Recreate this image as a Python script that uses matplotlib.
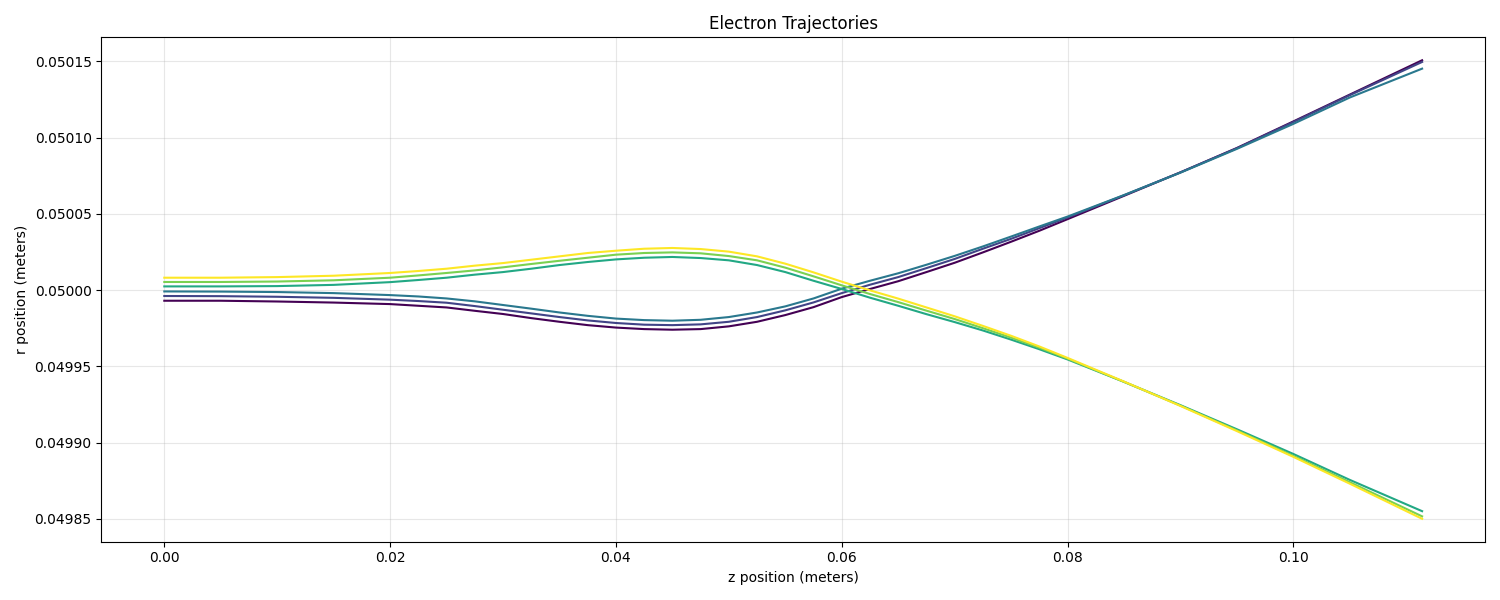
import numpy as np
import matplotlib
matplotlib.use("Agg")
import matplotlib.pyplot as plt

# z positions (m) where the trajectories were read
z = [0.0, 0.005, 0.01, 0.015,
     0.02, 0.0225, 0.025, 0.0275, 0.03, 0.0325, 0.035, 0.0375, 0.04, 0.0425,
     0.045, 0.0475, 0.05, 0.0525, 0.055, 0.0575, 0.06, 0.0625, 0.065, 0.0675,
     0.07, 0.0725, 0.075, 0.0775, 0.08,
     0.085, 0.09, 0.095, 0.10, 0.105, 0.1114]

# r positions (m), one list per electron (innermost start first)
r_1 = [0.0499930, 0.0499930, 0.0499925, 0.0499918,
       0.0499908, 0.0499897, 0.0499886, 0.0499864, 0.0499843, 0.0499816, 0.0499792, 0.0499770, 0.0499754, 0.0499744,
       0.0499740, 0.0499744, 0.0499762, 0.0499792, 0.0499836, 0.0499888, 0.0499954, 0.0500007, 0.0500058, 0.0500118,
       0.0500179, 0.0500247, 0.0500317, 0.0500389, 0.0500465,
       0.0500618, 0.0500772, 0.0500932, 0.0501106, 0.0501282, 0.0501507]
r_2 = [0.0499961, 0.0499960, 0.0499956, 0.0499949,
       0.0499937, 0.0499928, 0.0499917, 0.0499895, 0.0499871, 0.0499847, 0.0499823, 0.0499801, 0.0499784, 0.0499773,
       0.0499770, 0.0499775, 0.0499792, 0.0499823, 0.0499867, 0.0499919, 0.0499980, 0.0500035, 0.0500085, 0.0500144,
       0.0500204, 0.0500271, 0.0500336, 0.0500406, 0.0500476,
       0.0500622, 0.0500772, 0.0500930, 0.0501102, 0.0501278, 0.0501496]
r_3 = [0.0499991, 0.0499990, 0.0499987, 0.0499980,
       0.0499967, 0.0499958, 0.0499945, 0.0499926, 0.0499902, 0.0499878, 0.0499853, 0.0499831, 0.0499813, 0.0499803,
       0.0499799, 0.0499805, 0.0499823, 0.0499853, 0.0499893, 0.0499945, 0.0500009, 0.0500061, 0.0500110, 0.0500166,
       0.0500224, 0.0500286, 0.0500351, 0.0500417, 0.0500482,
       0.0500623, 0.0500770, 0.0500926, 0.0501090, 0.0501263, 0.0501452]
r_4 = [0.0500024, 0.0500024, 0.0500026, 0.0500034,
       0.0500052, 0.0500066, 0.0500081, 0.0500101, 0.0500118, 0.0500140, 0.0500164, 0.0500184, 0.0500201, 0.0500212,
       0.0500217, 0.0500210, 0.0500195, 0.0500164, 0.0500118, 0.0500061, 0.0500007, 0.0499950, 0.0499897, 0.0499842,
       0.0499790, 0.0499735, 0.0499675, 0.0499612, 0.0499545,
       0.0499398, 0.0499245, 0.0499087, 0.0498925, 0.0498755, 0.0498550]
r_5 = [0.0500053, 0.0500053, 0.0500056, 0.0500064,
       0.0500081, 0.0500096, 0.0500112, 0.0500129, 0.0500149, 0.0500171, 0.0500192, 0.0500212, 0.0500232, 0.0500243,
       0.0500247, 0.0500241, 0.0500223, 0.0500195, 0.0500147, 0.0500090, 0.0500031, 0.0499974, 0.0499921, 0.0499865,
       0.0499810, 0.0499750, 0.0499688, 0.0499622, 0.0499550,
       0.0499398, 0.0499242, 0.0499080, 0.0498912, 0.0498740, 0.0498516]
r_6 = [0.0500081, 0.0500081, 0.0500085, 0.0500094,
       0.0500112, 0.0500125, 0.0500140, 0.0500160, 0.0500177, 0.0500199, 0.0500221, 0.0500243, 0.0500258, 0.0500271,
       0.0500276, 0.0500269, 0.0500252, 0.0500221, 0.0500173, 0.0500116, 0.0500055, 0.0499998, 0.0499944, 0.0499886,
       0.0499828, 0.0499765, 0.0499700, 0.0499630, 0.0499555,
       0.0499400, 0.0499240, 0.0499075, 0.0498906, 0.0498730, 0.0498500]

trajectories = [r_1, r_2, r_3, r_4, r_5, r_6]
colors = plt.cm.viridis(np.linspace(0, 1, len(trajectories)))

fig, ax = plt.subplots(figsize=(15, 6), dpi=100)
for r, c in zip(trajectories, colors):
    ax.plot(z, r, color=c, linewidth=1.5)

ax.set_title("Electron Trajectories")
ax.set_xlabel("z position (meters)")
ax.set_ylabel("r position (meters)")
ax.grid(True, alpha=0.3)

plt.tight_layout()
plt.savefig("out.png")
